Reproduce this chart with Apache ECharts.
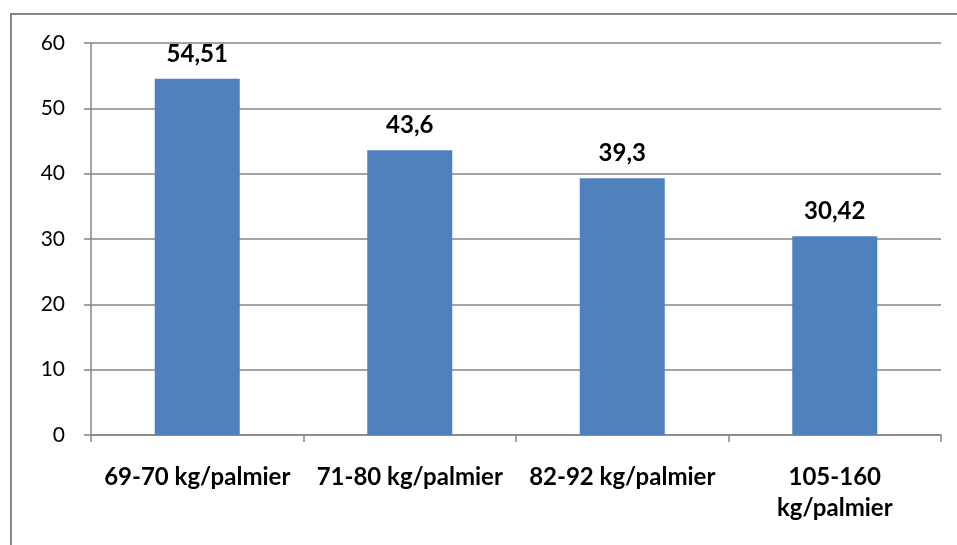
<!DOCTYPE html>
<html>
<head>
<meta charset="utf-8">
<script src="https://cdn.jsdelivr.net/npm/echarts@6/dist/echarts.min.js"></script>
<style>html,body{margin:0;padding:0;background:#fff}#c{width:957px;height:545px}</style>
</head>
<body>
<div id="c"></div>
<script>
const categories = ['69-70 kg/palmier', '71-80 kg/palmier', '82-92 kg/palmier', '105-160\nkg/palmier'];
const values = [54.51, 43.6, 39.3, 30.42];
const yTicks = [0, 10, 20, 30, 40, 50, 60];

const chart = echarts.init(document.getElementById('c'));
const FONT = 'Lato, "Open Sans", sans-serif';
chart.setOption({
  animation: false,
  backgroundColor: '#fff',
  graphic: [
    { type: 'polyline', shape: { points: [[11, 545], [11, 14], [957, 14]] }, style: { stroke: '#868686', lineWidth: 2, fill: null } }
  ],
  grid: { left: 91, right: 16, top: 43, bottom: 110, containLabel: false },
  xAxis: {
    type: 'category',
    data: categories,
    axisLine: { lineStyle: { color: '#868686', width: 1.5 } },
    axisTick: { show: true, length: 7, lineStyle: { color: '#868686', width: 1.5 } },
    axisLabel: { margin: 27, color: '#000', fontWeight: 'bold', fontSize: 24, fontFamily: FONT, lineHeight: 31, interval: 0 }
  },
  yAxis: {
    type: 'value',
    min: yTicks[0], max: yTicks[yTicks.length - 1], interval: 10,
    axisLine: { show: true, lineStyle: { color: '#868686', width: 1.5 } },
    axisTick: { show: true, length: 7, lineStyle: { color: '#868686', width: 1.5 } },
    splitLine: { lineStyle: { color: '#868686', width: 1.5 } },
    axisLabel: { margin: 26, color: '#000', fontSize: 21, fontFamily: FONT }
  },
  series: [{
    type: 'bar',
    data: values,
    barWidth: '40%',
    itemStyle: { color: '#4F81BD' },
    label: {
      show: true, position: 'top', distance: 13,
      color: '#000', fontWeight: 'bold', fontSize: 24, fontFamily: FONT,
      formatter: p => String(p.value).replace('.', ',')
    }
  }]
});
</script>
</body>
</html>
